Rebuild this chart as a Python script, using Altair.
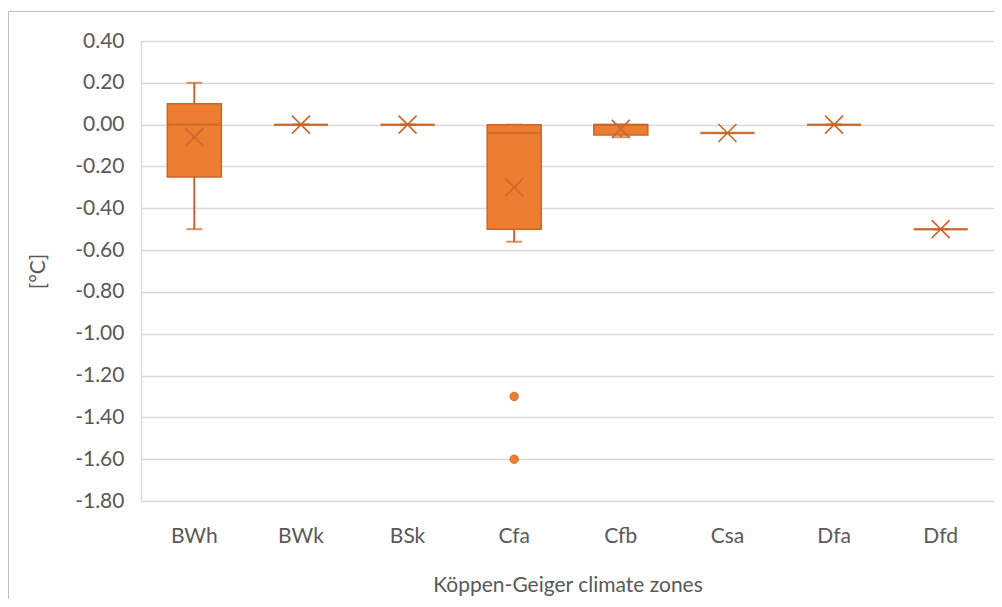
import altair as alt
import pandas as pd

# ---- data ----
categories = ["BWh", "BWk", "BSk", "Cfa", "Cfb", "Csa", "Dfa", "Dfd"]
whisker_low = [-0.50, 0.00, 0.00, -0.56, -0.06, -0.04, 0.00, -0.50]
q1 = [-0.25, 0.00, 0.00, -0.50, -0.05, -0.04, 0.00, -0.50]
median = [0.00, 0.00, 0.00, -0.04, 0.00, -0.04, 0.00, -0.50]
q3 = [0.10, 0.00, 0.00, 0.00, 0.00, -0.04, 0.00, -0.50]
whisker_high = [0.20, 0.00, 0.00, 0.00, 0.00, -0.04, 0.00, -0.50]
mean = [-0.06, 0.00, 0.00, -0.30, -0.02, -0.04, 0.00, -0.50]
outlier_cat = ["Cfa", "Cfa"]
outlier_val = [-1.30, -1.60]
y_ticks = [0.40, 0.20, 0.00, -0.20, -0.40, -0.60, -0.80, -1.00, -1.20,
           -1.40, -1.60, -1.80]

FONT = "Lato"
TXT = "#595959"
FILL = "#ED7D31"
DARK = "#C8662A"

df = pd.DataFrame({
    "zone": categories, "wlo": whisker_low, "q1": q1, "med": median,
    "q3": q3, "whi": whisker_high, "mean": mean,
})
out_df = pd.DataFrame({"zone": outlier_cat, "val": outlier_val})

x_enc = alt.X(
    "zone:N",
    sort=categories,
    scale=alt.Scale(domain=categories, paddingInner=0, paddingOuter=0),
    axis=alt.Axis(
        title="Köppen-Geiger climate zones",
        domain=False, ticks=False, grid=False,
        labelFont=FONT, labelFontSize=21, labelColor=TXT, labelPadding=24,
        labelAngle=0,
        titleFont=FONT, titleFontSize=21, titleColor=TXT, titleFontWeight="normal",
        titlePadding=28,
    ),
)
y_scale = alt.Scale(domain=[-1.8, 0.4], nice=False, zero=False)
y_axis = alt.Axis(
    title="[°C]",
    values=y_ticks,
    labelExpr="replace(format(datum.value, '.2f'), '\u2212', '-')",
    domain=True, domainColor="#D9D9D9", domainWidth=1.5,
    ticks=False, grid=True, gridColor="#D9D9D9", gridWidth=1.5,
    labelFont=FONT, labelFontSize=21, labelColor=TXT, labelPadding=17,
    titleFont=FONT, titleFontSize=21, titleColor=TXT, titleFontWeight="normal",
    titleAngle=-90, titleX=-103, titleY=230, titleAlign="center",
    titleBaseline="middle",
)

base = alt.Chart(df)

lower_whisker = base.mark_rule(color=DARK, strokeWidth=2).encode(
    x=x_enc, y=alt.Y("wlo:Q", scale=y_scale, axis=y_axis), y2="q1:Q")
upper_whisker = base.mark_rule(color=DARK, strokeWidth=2).encode(
    x="zone:N", y="q3:Q", y2="whi:Q")
cap_lo = base.mark_tick(color=DARK, size=16, thickness=2, orient="horizontal").encode(
    x="zone:N", y="wlo:Q")
cap_hi = base.mark_tick(color=DARK, size=16, thickness=2, orient="horizontal").encode(
    x="zone:N", y="whi:Q")
box = base.mark_bar(size=54, fill=FILL, stroke=DARK, strokeWidth=1.5).encode(
    x="zone:N", y="q1:Q", y2="q3:Q")
med = base.mark_tick(color=DARK, size=54, thickness=2.5, orient="horizontal").encode(
    x="zone:N", y="med:Q")
mean_pt = base.mark_point(
    shape="M-1,-1L1,1M1,-1L-1,1", size=324, filled=False,
    stroke=DARK, strokeWidth=1.6, opacity=1,
).encode(x="zone:N", y="mean:Q")
outliers = alt.Chart(out_df).mark_point(
    shape="circle", size=72, filled=True, fill=FILL, stroke=DARK,
    strokeWidth=0.8, opacity=1,
).encode(x="zone:N", y="val:Q")

frame = alt.Chart(alt.Data(values=[{"k": 1}]))
border_left = frame.mark_rule(color="#BFBFBF", strokeWidth=1).encode(
    x=alt.value(-132.5), y=alt.value(-29.5), y2=alt.value(570))
border_top = frame.mark_rule(color="#BFBFBF", strokeWidth=1).encode(
    x=alt.value(-132.5), x2=alt.value(853), y=alt.value(-29.5))

chart = alt.layer(
    lower_whisker, upper_whisker, cap_lo, cap_hi, box, med, mean_pt, outliers,
    border_left, border_top,
).properties(
    width=853, height=460,
    autosize=alt.AutoSizeParams(type="none"),
    padding={"left": 133, "top": 33, "right": 0, "bottom": 98},
).configure_view(stroke=None).configure(background="white")

chart.save("out.html", embed_options={"renderer": "svg", "actions": False})
